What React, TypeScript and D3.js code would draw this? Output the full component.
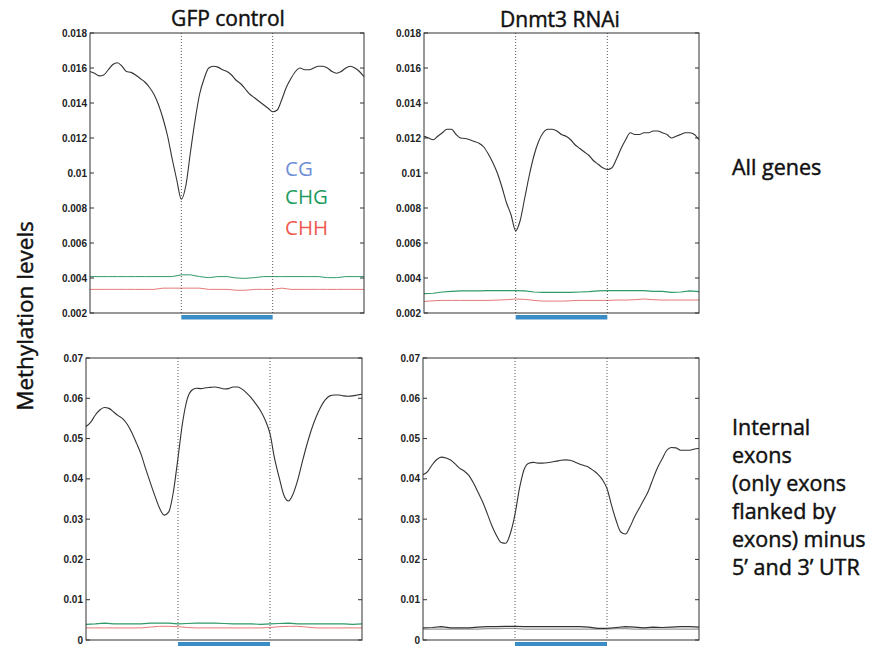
import React from "react";
import * as d3 from "d3";

// ---------- data ----------
const fineX = d3.range(0, 301, 5); // position along gene-region axis
const coarseX = d3.range(0, 301, 10);
const exonStart = 100;
const exonEnd = 200;

const topTicks = [0.002, 0.004, 0.006, 0.008, 0.01, 0.012, 0.014, 0.016, 0.018];
const bottomTicks = [0, 0.01, 0.02, 0.03, 0.04, 0.05, 0.06, 0.07];

const columnTitles = ["GFP control", "Dnmt3 RNAi"];
const legendLabels = ["CG", "CHG", "CHH"];
const rowLabelTop = ["All genes"];
const rowLabelBottom = ["Internal", "exons", "(only exons", "flanked by", "exons) minus", "5\u2019 and 3\u2019 UTR"];

const gfpAllCG = [0.0158, 0.0157, 0.01555, 0.0156, 0.0159, 0.0162, 0.0163, 0.0161, 0.0158, 0.01575, 0.0156, 0.0154, 0.0152, 0.0149, 0.0145, 0.0139, 0.0131, 0.0121, 0.0108, 0.0096, 0.0085, 0.0093, 0.0112, 0.013, 0.0145, 0.0154, 0.016, 0.0161, 0.01605, 0.0159, 0.0158, 0.0156, 0.0153, 0.0151, 0.0148, 0.0145, 0.0143, 0.0141, 0.0139, 0.0137, 0.0135, 0.0136, 0.0142, 0.0149, 0.0154, 0.0158, 0.016, 0.0159, 0.0159, 0.016, 0.0161, 0.0161, 0.016, 0.0158, 0.0157, 0.0158, 0.016, 0.0161, 0.016, 0.0158, 0.0155];
const gfpAllCHG = [0.00408, 0.00408, 0.00408, 0.00408, 0.00408, 0.00408, 0.00408, 0.00408, 0.00408, 0.00408, 0.00418, 0.00418, 0.00408, 0.00402, 0.00408, 0.00408, 0.004, 0.00398, 0.00402, 0.00408, 0.00408, 0.00408, 0.00408, 0.00408, 0.00408, 0.00408, 0.00402, 0.00402, 0.00408, 0.00408, 0.00408];
const gfpAllCHH = [0.00335, 0.00335, 0.00335, 0.00335, 0.00335, 0.00335, 0.00335, 0.00335, 0.00342, 0.00342, 0.00342, 0.00342, 0.00342, 0.00335, 0.00335, 0.00335, 0.0033, 0.0033, 0.00335, 0.00335, 0.00335, 0.00342, 0.00335, 0.00335, 0.00335, 0.00335, 0.00335, 0.00335, 0.00335, 0.00335, 0.00335];

const dnmtAllCG = [0.0121, 0.012, 0.0119, 0.0121, 0.0123, 0.0125, 0.0125, 0.0122, 0.012, 0.01197, 0.0119, 0.0118, 0.0117, 0.0115, 0.0111, 0.0106, 0.01, 0.0092, 0.0083, 0.0076, 0.0067, 0.0073, 0.0086, 0.0099, 0.011, 0.0118, 0.0123, 0.0125, 0.0125, 0.0124, 0.0122, 0.0121, 0.0119, 0.0116, 0.0114, 0.0112, 0.011, 0.0107, 0.0105, 0.0103, 0.0102, 0.0103, 0.0108, 0.0114, 0.0119, 0.0123, 0.0122, 0.0122, 0.0123, 0.0123, 0.0124, 0.0124, 0.0123, 0.0122, 0.012, 0.0121, 0.0122, 0.0123, 0.0123, 0.0122, 0.0119];
const dnmtAllCHG = [0.00311, 0.00313, 0.0032, 0.00324, 0.00326, 0.00326, 0.00326, 0.00328, 0.00328, 0.00328, 0.00328, 0.00326, 0.0032, 0.00318, 0.00318, 0.00318, 0.00318, 0.0032, 0.00322, 0.00326, 0.00328, 0.00328, 0.00328, 0.00328, 0.00328, 0.00324, 0.00324, 0.00318, 0.0032, 0.00326, 0.00322];
const dnmtAllCHH = [0.00266, 0.0027, 0.00272, 0.00272, 0.00272, 0.00272, 0.00272, 0.00272, 0.00274, 0.00276, 0.0028, 0.00278, 0.00272, 0.00268, 0.00268, 0.00268, 0.0027, 0.00272, 0.00272, 0.00272, 0.00272, 0.00274, 0.00274, 0.00276, 0.0028, 0.00276, 0.00274, 0.00274, 0.00274, 0.00274, 0.00274];

const gfpExonCG = [0.053, 0.054, 0.0558, 0.0571, 0.0577, 0.0575, 0.0566, 0.0557, 0.0549, 0.0535, 0.0514, 0.0488, 0.046, 0.0424, 0.039, 0.0357, 0.0327, 0.031, 0.0318, 0.0368, 0.0452, 0.054, 0.0598, 0.062, 0.0625, 0.0624, 0.0626, 0.0627, 0.0628, 0.0626, 0.0623, 0.0624, 0.0628, 0.0628, 0.0622, 0.0612, 0.06, 0.0585, 0.0568, 0.0545, 0.0512, 0.045, 0.0403, 0.036, 0.0345, 0.0362, 0.0396, 0.0441, 0.0484, 0.0522, 0.0553, 0.0578, 0.0596, 0.0606, 0.0608, 0.0608, 0.0606, 0.0605, 0.0606, 0.0608, 0.061];
const gfpExonCHG = [0.0039, 0.004, 0.0042, 0.004, 0.004, 0.004, 0.004, 0.0042, 0.0042, 0.0042, 0.004, 0.0041, 0.0042, 0.0042, 0.0042, 0.0041, 0.004, 0.004, 0.004, 0.0039, 0.004, 0.0041, 0.0042, 0.004, 0.004, 0.004, 0.004, 0.004, 0.004, 0.0039, 0.004];
const gfpExonCHH = [0.003, 0.003, 0.003, 0.003, 0.003, 0.003, 0.003, 0.0032, 0.0034, 0.0034, 0.0033, 0.0031, 0.003, 0.003, 0.003, 0.003, 0.003, 0.003, 0.003, 0.003, 0.0031, 0.0033, 0.0034, 0.0034, 0.0032, 0.003, 0.003, 0.003, 0.003, 0.003, 0.003];

const dnmtExonCG = [0.041, 0.0418, 0.0435, 0.0448, 0.0454, 0.0452, 0.0447, 0.0437, 0.0426, 0.0419, 0.0408, 0.0389, 0.0366, 0.0342, 0.0313, 0.0283, 0.0259, 0.0242, 0.024, 0.0265, 0.0312, 0.0378, 0.0424, 0.0439, 0.0441, 0.0439, 0.0439, 0.044, 0.0442, 0.0444, 0.0446, 0.0447, 0.0446, 0.0442, 0.0437, 0.0433, 0.0429, 0.0421, 0.0412, 0.0398, 0.0376, 0.0334, 0.0296, 0.0268, 0.0263, 0.0281, 0.0306, 0.0327, 0.0348, 0.037, 0.04, 0.0428, 0.045, 0.0471, 0.0478, 0.0477, 0.0471, 0.0471, 0.0471, 0.0474, 0.0476];
const dnmtExonCHG = [0.003, 0.0031, 0.0033, 0.003, 0.003, 0.003, 0.0032, 0.0033, 0.0033, 0.0034, 0.0034, 0.0033, 0.0033, 0.0033, 0.0033, 0.0033, 0.0033, 0.0033, 0.0032, 0.0029, 0.0029, 0.0031, 0.0033, 0.0032, 0.003, 0.0032, 0.0031, 0.0032, 0.0033, 0.0033, 0.0032];
const dnmtExonCHH = [0.0027, 0.0027, 0.0027, 0.0027, 0.0027, 0.0027, 0.0027, 0.0028, 0.0028, 0.0029, 0.0029, 0.0027, 0.0027, 0.0027, 0.0027, 0.0027, 0.0027, 0.0027, 0.0027, 0.0027, 0.0027, 0.0028, 0.0028, 0.0027, 0.0027, 0.0027, 0.0027, 0.0027, 0.0027, 0.0027, 0.0027];

// ---------- styles ----------
const BIG_FONT = "'Open Sans', 'Noto Sans', sans-serif";
const TICK_FONT = "'Liberation Sans', Arial, sans-serif";
const CG_COLOR = "#333";
const CHG_COLOR = "#2f9a68";
const CHH_COLOR = "#e47a78";
const LEGEND_COLORS = ["#6f8fd6", "#1f9c60", "#ef5a4f"];
const EXON_BAR = "#3a8cc6";

type Series = { xs: number[]; ys: number[]; color: string; width: number; curve: any };

type PanelProps = {
  left: number; right: number; top: number; bottom: number;
  domainY: [number, number]; ticks: number[]; series: Series[];
};

function fmt(v: number) {
  return String(+v.toFixed(3));
}

function Panel({ left, right, top, bottom, domainY, ticks, series }: PanelProps) {
  const x = d3.scaleLinear().domain([0, 300]).range([left, right]);
  const y = d3.scaleLinear().domain(domainY).range([bottom, top]);
  return (
    <g>
      {series.map((s, i) => {
        const line = d3
          .line<number>()
          .x((_, j) => x(s.xs[j]))
          .y((v) => y(v))
          .curve(s.curve);
        return <path key={i} d={line(s.ys) || ""} fill="none" stroke={s.color} strokeWidth={s.width} />;
      })}
      {[exonStart, exonEnd].map((v) => (
        <line key={v} x1={x(v)} x2={x(v)} y1={top} y2={bottom} stroke="#444" strokeWidth={0.9} strokeDasharray="1,2" />
      ))}
      <rect x={left} y={top} width={right - left} height={bottom - top} fill="none" stroke="#333" strokeWidth={1} />
      {ticks.map((t) => (
        <g key={t}>
          <line x1={left} x2={left + 4} y1={y(t)} y2={y(t)} stroke="#333" strokeWidth={1} />
          <line x1={right - 4} x2={right} y1={y(t)} y2={y(t)} stroke="#333" strokeWidth={1} />
          <text x={left - 3} y={y(t)} dy="0.35em" textAnchor="end" fontFamily={TICK_FONT} fontSize={10} fontWeight="bold" fill="#222">
            {fmt(t)}
          </text>
        </g>
      ))}
      <rect x={x(exonStart)} y={bottom + 2} width={x(exonEnd) - x(exonStart)} height={4.5} fill={EXON_BAR} />
    </g>
  );
}

function mk(xs: number[], ys: number[], color: string, width: number, curve: any): Series {
  return { xs, ys, color, width, curve };
}

export default function App() {
  const smooth = d3.curveMonotoneX;
  const lin = d3.curveLinear;
  const topDomain: [number, number] = [0.002, 0.018];
  const botDomain: [number, number] = [0, 0.07];
  const heavy = { stroke: "#111", strokeWidth: 0.45 };
  return (
    <svg width={870} height={646} style={{ position: "fixed", left: 0, top: 0, background: "#fff" }}>
      <rect x={0} y={0} width={870} height={646} fill="#fff" />
      <Panel left={90} right={364} top={33} bottom={313} domainY={topDomain} ticks={topTicks}
        series={[mk(coarseX, gfpAllCHG, CHG_COLOR, 1, lin), mk(coarseX, gfpAllCHH, CHH_COLOR, 1, lin), mk(fineX, gfpAllCG, CG_COLOR, 1.1, smooth)]} />
      <Panel left={424} right={699} top={33} bottom={313} domainY={topDomain} ticks={topTicks}
        series={[mk(coarseX, dnmtAllCHG, CHG_COLOR, 1.2, lin), mk(coarseX, dnmtAllCHH, CHH_COLOR, 1, lin), mk(fineX, dnmtAllCG, CG_COLOR, 1.1, smooth)]} />
      <Panel left={86} right={362} top={358} bottom={640} domainY={botDomain} ticks={bottomTicks}
        series={[mk(coarseX, gfpExonCHG, CHG_COLOR, 1.2, lin), mk(coarseX, gfpExonCHH, CHH_COLOR, 1, lin), mk(fineX, gfpExonCG, CG_COLOR, 1.1, smooth)]} />
      <Panel left={423} right={699} top={358} bottom={640} domainY={botDomain} ticks={bottomTicks}
        series={[mk(coarseX, dnmtExonCHH, "#9a9a9a", 1.2, lin), mk(coarseX, dnmtExonCHG, "#333", 1.2, lin), mk(fineX, dnmtExonCG, CG_COLOR, 1.1, smooth)]} />

      {/* column titles */}
      <text x={228} y={26} textAnchor="middle" fontFamily={BIG_FONT} fontSize={21} fill="#111" {...heavy}>{columnTitles[0]}</text>
      <text x={560} y={27} textAnchor="middle" fontFamily={BIG_FONT} fontSize={21} fill="#111" {...heavy}>{columnTitles[1]}</text>

      {/* y axis label */}
      <text transform="translate(33,316) rotate(-90)" textAnchor="middle" fontFamily={BIG_FONT} fontSize={22.5} fill="#111" {...heavy}>
        Methylation levels
      </text>

      {/* legend */}
      {legendLabels.map((l, i) => (
        <text key={l} x={285} y={[176, 204, 235][i]} fontFamily={BIG_FONT} fontSize={20.5} fill={LEGEND_COLORS[i]}>
          {l}
        </text>
      ))}

      {/* row labels */}
      {rowLabelTop.map((l, i) => (
        <text key={l} x={732} y={175 + i * 28} fontFamily={BIG_FONT} fontSize={21.5} fill="#111" {...heavy}>{l}</text>
      ))}
      {rowLabelBottom.map((l, i) => (
        <text key={l} x={732} y={435 + i * 28} fontFamily={BIG_FONT} fontSize={21.5} fill="#111" {...heavy}>{l}</text>
      ))}
    </svg>
  );
}
